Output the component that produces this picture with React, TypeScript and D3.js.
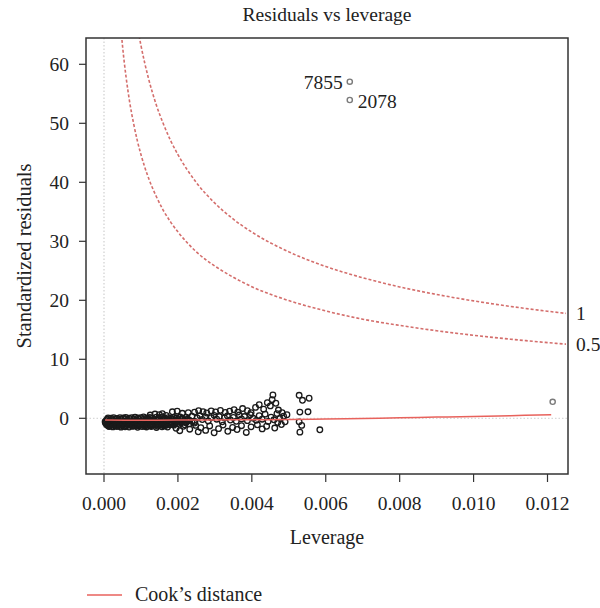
import React from "react";
import * as d3 from "d3";

// ---- data ----
const xTicks = [0, 0.002, 0.004, 0.006, 0.008, 0.01, 0.012];
const yTicks = [0, 10, 20, 30, 40, 50, 60];

// dense cluster + scattered observations: [leverage, standardized residual]
const clusterPoints: [number, number][] = [
  [0.00011, 0.08], [0.00019, 0.02], [0.00026, 0.12], [0.00036, -0.02], [0.00043, 0.1], [0.00052, 0.05],
  [0.00059, 0.15], [0.00068, 0.01], [0.00075, 0.09], [0.00084, 0.18], [0.00092, 0.04], [0.001, 0.11],
  [0.00107, 0.22], [0.00117, 0.06], [0.00124, 0.14], [0.00131, 0.03], [0.00142, 0.19], [0.00148, 0.08],
  [0.00158, 0.25], [0.00164, 0.02], [0.00174, 0.12], [0.0018, -0.05], [0.0019, 0.16], [0.00196, 0.07],
  [0.00206, 0.21], [0.00213, -0.02],
  [0.00009, -0.15], [0.00021, -0.2], [0.00033, -0.12], [0.00047, -0.18], [0.00058, -0.1], [0.00071, -0.22],
  [0.00082, -0.14], [0.00095, -0.19], [0.00109, -0.08], [0.0012, -0.17], [0.00134, -0.24], [0.00146, -0.11],
  [0.00161, -0.16], [0.00172, -0.21], [0.00185, -0.09], [0.00199, -0.18], [0.00211, -0.13], [0.00226, -0.15],
  [0.00006, -0.35], [0.00015, -0.42], [0.00023, -0.38], [0.00031, -0.45], [0.00039, -0.33], [0.00047, -0.41],
  [0.00056, -0.47], [0.00064, -0.36], [0.00072, -0.44], [0.0008, -0.39], [0.00088, -0.31], [0.00096, -0.46],
  [0.00104, -0.4], [0.00113, -0.34], [0.00121, -0.43], [0.00128, -0.37], [0.00137, -0.48], [0.00145, -0.32],
  [0.00153, -0.42], [0.00161, -0.38], [0.00169, -0.45], [0.00177, -0.35], [0.00186, -0.41], [0.00194, -0.3],
  [0.00201, -0.44], [0.0021, -0.39], [0.00219, -0.36], [0.00228, -0.43],
  [0.00003, -0.58], [0.00016, -0.62], [0.00027, -0.55], [0.0004, -0.65], [0.00051, -0.6], [0.00063, -0.57],
  [0.00076, -0.66], [0.00087, -0.61], [0.00099, -0.54], [0.00111, -0.63], [0.00123, -0.59], [0.00136, -0.67],
  [0.00147, -0.56], [0.00159, -0.62], [0.00171, -0.6], [0.00183, -0.64], [0.00196, -0.57], [0.00208, -0.61],
  [0.0022, -0.66], [0.00238, -0.55],
  [0.00004, -0.78], [0.00012, -0.84], [0.0002, -0.75], [0.00029, -0.82], [0.00037, -0.88], [0.00045, -0.79],
  [0.00053, -0.73], [0.00061, -0.86], [0.0007, -0.8], [0.00078, -0.76], [0.00086, -0.85], [0.00094, -0.81],
  [0.00102, -0.74], [0.0011, -0.87], [0.00119, -0.79], [0.00127, -0.83], [0.00135, -0.77], [0.00143, -0.85],
  [0.00151, -0.72], [0.0016, -0.81], [0.00168, -0.88], [0.00176, -0.76], [0.00184, -0.83], [0.00193, -0.79],
  [0.00201, -0.86], [0.00209, -0.74], [0.00222, -0.75], [0.00245, -0.8],
  [0.00006, -0.98], [0.00019, -1.02], [0.0003, -0.95], [0.00043, -1.04], [0.00055, -0.99], [0.00067, -0.96],
  [0.0008, -1.03], [0.00092, -1.0], [0.00104, -0.94], [0.00117, -1.05], [0.00129, -0.97], [0.00141, -1.01],
  [0.00154, -0.96], [0.00166, -1.04], [0.00179, -0.99], [0.00192, -0.93], [0.00204, -1.02], [0.0023, -0.95],
  [0.00008, -1.12], [0.00017, -1.18], [0.00025, -1.08], [0.00034, -1.21], [0.00042, -1.14], [0.0005, -1.1],
  [0.00058, -1.19], [0.00066, -1.16], [0.00075, -1.06], [0.00083, -1.22], [0.00091, -1.13], [0.00099, -1.17],
  [0.00108, -1.09], [0.00116, -1.2], [0.00124, -1.12], [0.00133, -1.15], [0.00141, -1.07], [0.0015, -1.19],
  [0.00158, -1.11], [0.00167, -1.24], [0.00178, -1.1], [0.00189, -1.16], [0.00218, -1.1],
  [0.00012, -1.3], [0.00028, -1.28], [0.00044, -1.33], [0.0006, -1.27], [0.00076, -1.32], [0.00093, -1.29],
  [0.0011, -1.34], [0.00126, -1.26], [0.00144, -1.31], [0.00162, -1.3],
  [0.00014, -1.4], [0.00024, -1.46], [0.00035, -1.38], [0.00046, -1.5], [0.00057, -1.43], [0.00068, -1.48],
  [0.00079, -1.36], [0.00091, -1.52], [0.00103, -1.41], [0.00115, -1.47], [0.00128, -1.39], [0.00142, -1.55],
  [0.00157, -1.44], [0.00172, -1.49],
];

const scatterPoints: [number, number][] = [
  [0.00125, 0.55], [0.00138, 0.72], [0.0015, 0.6], [0.00158, 0.78], [0.00168, 0.5], [0.00185, 1.1],
  [0.00198, 1.22], [0.00212, 0.85], [0.00228, 0.95], [0.00245, 1.05], [0.00256, 1.3], [0.00268, 1.12],
  [0.00278, 0.9], [0.0029, 1.25], [0.00302, 1.08], [0.00315, 1.35], [0.00328, 1.0], [0.0034, 1.2],
  [0.00352, 1.45], [0.00362, 1.05], [0.00375, 1.65], [0.00388, 1.3], [0.00398, 0.95], [0.0041, 1.85],
  [0.0042, 2.3], [0.00432, 1.55], [0.00442, 2.65], [0.0045, 2.1], [0.00457, 3.95], [0.00455, 3.15],
  [0.00465, 2.55], [0.00472, 1.4], [0.00482, 0.95], [0.00495, 0.6], [0.00528, 3.9], [0.00537, 3.05],
  [0.00555, 3.4], [0.0053, 1.05], [0.00552, 1.1], [0.00584, -1.95], [0.0053, -2.35], [0.00535, -1.2],
  [0.00528, -0.6],
  [0.00222, 0.2], [0.0023, -0.3], [0.00238, 0.35], [0.00246, -0.55], [0.00252, 0.05], [0.0026, 0.45],
  [0.00266, -0.2], [0.00274, 0.25], [0.00282, -0.45], [0.0029, 0.1], [0.00298, 0.5], [0.00305, -0.15],
  [0.00312, 0.3], [0.0032, -0.6], [0.00326, 0.05], [0.00334, 0.4], [0.00342, -0.3], [0.0035, 0.15],
  [0.00358, -0.5], [0.00366, 0.55], [0.00372, -0.1], [0.0038, 0.3], [0.00388, -0.4], [0.00396, 0.6],
  [0.00404, 0.0], [0.00412, -0.35], [0.0042, 0.45], [0.00428, -0.15], [0.00436, 0.7], [0.00444, -0.55],
  [0.00452, 0.2], [0.0046, -0.25], [0.00468, 0.8], [0.00476, -0.05], [0.00486, 0.35], [0.0047, -0.7],
  [0.0049, -0.6],
  [0.00195, -1.7], [0.00205, -2.1], [0.00215, -1.35], [0.00232, -1.85], [0.00248, -1.2], [0.00255, -2.3],
  [0.00262, -1.6], [0.00275, -2.05], [0.00286, -1.3], [0.00298, -2.45], [0.0031, -1.75], [0.00322, -1.15],
  [0.00335, -2.2], [0.00348, -1.55], [0.0036, -1.9], [0.00372, -1.25], [0.00385, -2.4], [0.00398, -1.45],
  [0.00415, -1.1], [0.00428, -1.8], [0.0044, -1.35], [0.00462, -1.65], [0.0048, -1.05],
];

const outlierIds = ["7855", "2078", ""];
const outlierLeverage = [0.00665, 0.00665, 0.01214];
const outlierResidual = [57.05, 53.95, 2.8];

// red smoother (Cook's distance legend line)
const smoothLeverage = [0.00003, 0.001, 0.002, 0.003, 0.004, 0.005, 0.006, 0.007, 0.008, 0.009, 0.01, 0.011, 0.0121];
const smoothResidual = [-0.3, -0.32, -0.3, -0.27, -0.25, -0.2, -0.12, -0.02, 0.08, 0.2, 0.3, 0.45, 0.6];

// Cook's distance contours
const cookLeverage = [0.00045, 0.0005, 0.0006, 0.0007, 0.0008, 0.0009, 0.001, 0.0012, 0.0014, 0.0016, 0.0018, 0.002,
  0.0025, 0.003, 0.0035, 0.004, 0.005, 0.006, 0.007, 0.008, 0.009, 0.01, 0.011, 0.012, 0.0125];
const cookLevel1 = [94.3, 89.4, 81.6, 75.6, 70.7, 66.6, 63.2, 57.7, 53.4, 50.0, 47.1, 44.7,
  39.95, 36.46, 33.75, 31.56, 28.21, 25.74, 23.82, 22.27, 20.99, 19.9, 18.96, 18.15, 17.78];
const cookLevel05 = [66.7, 63.2, 57.7, 53.4, 50.0, 47.1, 44.7, 40.8, 37.8, 35.3, 33.3, 31.6,
  28.2, 25.8, 23.9, 22.3, 19.95, 18.2, 16.8, 15.75, 14.84, 14.07, 13.41, 12.83, 12.57];
const cookLabels = ["1", "0.5"];

const FONT = "'Liberation Serif', 'Times New Roman', serif";

export default function App() {
  const L = 86, R = 568, T = 38, B = 474;
  const x = d3.scaleLinear().domain([0, 0.012]).range([104, 547.5]);
  const y = d3.scaleLinear().domain([0, 60]).range([418.3, 64.3]);

  const line = d3.line<[number, number]>().x(d => x(d[0])).y(d => y(d[1])).curve(d3.curveMonotoneX);
  const cook1 = cookLeverage.map((h, i) => [h, cookLevel1[i]] as [number, number]);
  const cook05 = cookLeverage.map((h, i) => [h, cookLevel05[i]] as [number, number]);
  const smooth = smoothLeverage.map((h, i) => [h, smoothResidual[i]] as [number, number]);
  const pts = [...clusterPoints, ...scatterPoints];
  const cookColor = "#d46e6c";

  return (
    <svg width={600} height={608} style={{ position: "absolute", left: 0, top: 0, background: "#fff" }}
      fontFamily={FONT}>
      <defs>
        <clipPath id="plotclip"><rect x={L} y={T} width={R - L} height={B - T} /></clipPath>
      </defs>
      <text x={(L + R) / 2} y={21} fontSize={19.5} textAnchor="middle" fill="#222">Residuals vs leverage</text>

      <g clipPath="url(#plotclip)">
        <line x1={x(0)} x2={x(0)} y1={T} y2={B} stroke="#cfcfcf" strokeDasharray="1.5,2" strokeWidth={1.2} />
        <line x1={L} x2={R} y1={y(0)} y2={y(0)} stroke="#d8d8d8" strokeDasharray="1.5,2" strokeWidth={1.2} />
        <path d={line(cook05) || ""} fill="none" stroke={cookColor} strokeWidth={1.6} strokeDasharray="3,2" />
        <path d={line(cook1) || ""} fill="none" stroke={cookColor} strokeWidth={1.6} strokeDasharray="3,2" />
        {pts.map((p, i) => (
          <circle key={i} cx={x(p[0])} cy={y(p[1])} r={2.8} fill="none" stroke="#1a1a1a" strokeWidth={1.3} />
        ))}
        {outlierLeverage.map((h, i) => (
          <circle key={"o" + i} cx={x(h)} cy={y(outlierResidual[i])} r={2.6} fill="none" stroke="#7a7a7a" strokeWidth={1.4} />
        ))}
        <path d={line(smooth) || ""} fill="none" stroke="#e8625c" strokeWidth={1.5} />
      </g>

      <text x={x(outlierLeverage[0]) - 7} y={y(outlierResidual[0]) + 7} fontSize={19.5} textAnchor="end" fill="#222">{outlierIds[0]}</text>
      <text x={x(outlierLeverage[1]) + 8} y={y(outlierResidual[1]) + 8} fontSize={19.5} textAnchor="start" fill="#222">{outlierIds[1]}</text>

      <text x={576} y={y(cookLevel1[cookLevel1.length - 1]) + 7} fontSize={19.5} fill="#222">{cookLabels[0]}</text>
      <text x={576} y={y(cookLevel05[cookLevel05.length - 1]) + 7} fontSize={19.5} fill="#222">{cookLabels[1]}</text>

      <rect x={L} y={T} width={R - L} height={B - T} fill="none" stroke="#333" strokeWidth={1.5} />

      {yTicks.map(t => (
        <g key={"y" + t}>
          <line x1={L - 7} x2={L} y1={y(t)} y2={y(t)} stroke="#333" strokeWidth={1.2} />
          <text x={69} y={y(t) + 6.5} fontSize={19.5} textAnchor="end" fill="#222">{t}</text>
        </g>
      ))}
      {xTicks.map(t => (
        <g key={"x" + t}>
          <line x1={x(t)} x2={x(t)} y1={B} y2={B + 8} stroke="#333" strokeWidth={1.2} />
          <text x={x(t)} y={510} fontSize={19.5} textAnchor="middle" fill="#222">{d3.format(".3f")(t)}</text>
        </g>
      ))}

      <text x={(L + R) / 2} y={544} fontSize={20} textAnchor="middle" fill="#222">Leverage</text>
      <text transform={`translate(31, ${(T + B) / 2}) rotate(-90)`} fontSize={20.5} textAnchor="middle" fill="#222">Standardized residuals</text>

      <line x1={87} x2={122} y1={595} y2={595} stroke="#e8625c" strokeWidth={1.6} />
      <text x={135} y={601} fontSize={20} fill="#222">Cook’s distance</text>
    </svg>
  );
}
